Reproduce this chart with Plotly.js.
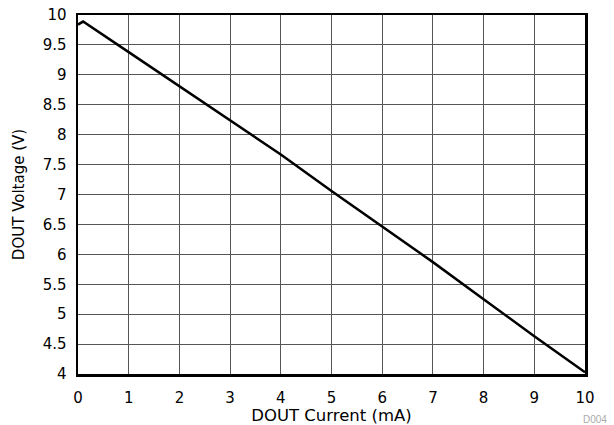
<!DOCTYPE html>
<html>
<head>
<meta charset="utf-8">
<script src="https://cdn.plot.ly/plotly-3.0.1.min.js"></script>
<style>html,body{margin:0;padding:0;background:#fff;}#chart{width:614px;height:425px;}</style>
</head>
<body>
<div id="chart"></div>
<script>
const currentMA = [0, 0.1, 1, 2, 3, 4, 5, 6, 7, 8, 9, 10];
const voltageV = [9.84, 9.89, 9.38, 8.81, 8.24, 7.67, 7.06, 6.47, 5.87, 5.25, 4.63, 4.03];
const xTickVals = [0,1,2,3,4,5,6,7,8,9,10];
const yTickVals = [4,4.5,5,5.5,6,6.5,7,7.5,8,8.5,9,9.5,10];
const yTickText = ['4','4.5','5','5.5','6','6.5','7','7.5','8','8.5','9','9.5','10'];

const fam = 'DejaVu Sans, Liberation Sans, Arial, sans-serif';
const font = {family: fam, size: 15, color: '#000'};

Plotly.newPlot('chart', [{
  x: currentMA, y: voltageV, mode: 'lines', type: 'scatter',
  line: {color: '#000', width: 2.5}, hoverinfo: 'skip', showlegend: false
}], {
  width: 614, height: 425,
  margin: {l: 78, r: 29, t: 15, b: 51},
  paper_bgcolor: '#fff', plot_bgcolor: '#fff',
  font: font,
  xaxis: {
    range: [0, 10], tickvals: xTickVals, ticktext: xTickVals.map(String),
    showgrid: true, gridcolor: '#555', gridwidth: 1,
    showline: true, linecolor: '#000', linewidth: 2.5, mirror: true,
    zeroline: false, ticks: '', ticklabelstandoff: 8,
    tickfont: font,
    title: {text: 'DOUT Current (mA)', font: {family: fam, size: 16.5, color: '#000'}, standoff: 0}
  },
  yaxis: {
    range: [4, 10], tickvals: yTickVals, ticktext: yTickText,
    showgrid: true, gridcolor: '#555', gridwidth: 1,
    showline: true, linecolor: '#000', linewidth: 2.5, mirror: true,
    zeroline: false, ticks: '', ticklabelstandoff: 6,
    tickfont: font,
    title: {text: 'DOUT Voltage (V)', font: font, standoff: 15}
  },
  annotations: [{
    text: 'D004', xref: 'paper', yref: 'paper', x: 1.0, y: 0, xanchor: 'left', yanchor: 'top',
    xshift: -4, yshift: -38, showarrow: false,
    font: {family: 'Liberation Sans, Arial, sans-serif', size: 10, color: '#aaa'}
  }]
}, {displayModeBar: false, staticPlot: true});
</script>
</body>
</html>
